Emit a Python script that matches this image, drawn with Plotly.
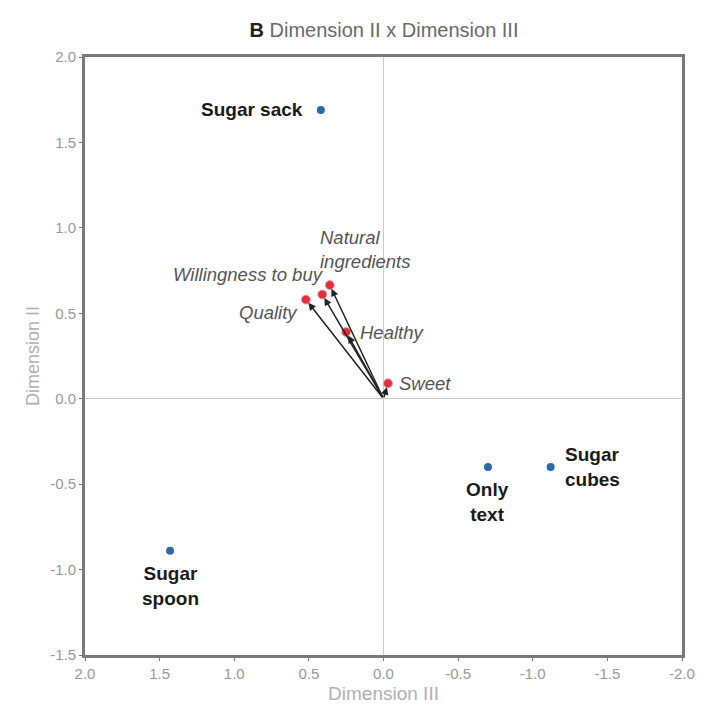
import plotly.graph_objects as go

# Product concepts (blue) and attribute vectors (red) on Dimension III (x) vs Dimension II (y)
product_names = ["Sugar sack", "Only text", "Sugar cubes", "Sugar spoon"]
product_labels = ["Sugar sack", "Only<br>text", "Sugar<br>cubes", "Sugar<br>spoon"]
product_dim3 = [0.42, -0.70, -1.12, 1.43]
product_dim2 = [1.69, -0.40, -0.40, -0.89]

attr_names = ["Sweet", "Healthy", "Quality", "Willingness to buy", "Natural ingredients"]
attr_labels = ["Sweet", "Healthy", "Quality", "Willingness to buy", "Natural<br>ingredients"]
attr_dim3 = [-0.03, 0.25, 0.52, 0.41, 0.36]
attr_dim2 = [0.09, 0.39, 0.58, 0.61, 0.665]

x_ticks = [2.0, 1.5, 1.0, 0.5, 0.0, -0.5, -1.0, -1.5, -2.0]
y_ticks = [2.0, 1.5, 1.0, 0.5, 0.0, -0.5, -1.0, -1.5]

FONT = "Liberation Sans, Arial, sans-serif"

fig = go.Figure()

# Arrows from the origin to each attribute point
for x, y in zip(attr_dim3, attr_dim2):
    fig.add_annotation(
        x=x, y=y, ax=0, ay=0, xref="x", yref="y", axref="x", ayref="y",
        showarrow=True, arrowhead=2, arrowsize=1.0, arrowwidth=1.5,
        arrowcolor="#222222", standoff=4, text="",
    )

fig.add_trace(go.Scatter(
    x=attr_dim3, y=attr_dim2, mode="markers",
    marker=dict(size=9, color="#e0303c", line=dict(color="#f5a0a8", width=1)),
    hoverinfo="text", text=attr_names, showlegend=False,
))

fig.add_trace(go.Scatter(
    x=product_dim3, y=product_dim2, mode="markers",
    marker=dict(size=8, color="#2a6aaa"),
    hoverinfo="text", text=product_names, showlegend=False,
))

# Product labels
prod_pos = [
    dict(xanchor="right", yanchor="middle", xshift=-16, yshift=0, align="right"),
    dict(xanchor="center", yanchor="top", xshift=0, yshift=-10, align="center"),
    dict(xanchor="left", yanchor="middle", xshift=12, yshift=0, align="left"),
    dict(xanchor="center", yanchor="top", xshift=0, yshift=-10, align="center"),
]
for x, y, lab, p in zip(product_dim3, product_dim2, product_labels, prod_pos):
    fig.add_annotation(
        x=x, y=y, text=f"<b>{lab}</b>", showarrow=False,
        font=dict(family=FONT, size=19, color="#1a1a1a"), **p,
    )

# Attribute labels
attr_pos = [
    dict(xanchor="left", yanchor="middle", xshift=9, yshift=0, align="left"),
    dict(xanchor="left", yanchor="middle", xshift=12, yshift=0, align="left"),
    dict(xanchor="right", yanchor="middle", xshift=-6, yshift=-13, align="right"),
    dict(xanchor="right", yanchor="middle", xshift=4, yshift=20, align="right"),
    dict(xanchor="left", yanchor="bottom", xshift=-12, yshift=11, align="left"),
]
for x, y, lab, p in zip(attr_dim3, attr_dim2, attr_labels, attr_pos):
    fig.add_annotation(
        x=x, y=y, text=f"<i>{lab}</i>", showarrow=False,
        font=dict(family=FONT, size=18.5, color="#555555"), **p,
    )

fig.update_layout(
    width=702, height=713,
    margin=dict(l=85, r=20, t=57, b=58),
    paper_bgcolor="white", plot_bgcolor="white",
    title=dict(
        text="<b><span style='color:#222'>B</span></b> Dimension II x Dimension III",
        x=384 / 702, xanchor="center",
        y=1 - 30 / 713, yanchor="middle",
        font=dict(family=FONT, size=20, color="#6a6a6a"),
    ),
    xaxis=dict(
        range=[2.0, -2.0], tickvals=x_ticks, automargin=False,
        ticktext=[f"{v:.1f}" for v in x_ticks],
        showgrid=False, zeroline=True, zerolinecolor="#cccccc", zerolinewidth=1,
        showline=True, linecolor="#7a7a7a", linewidth=3, mirror=True,
        ticks="outside", ticklen=3, tickcolor="#7a7a7a",
        tickfont=dict(family=FONT, size=15, color="#999999"),
        title=dict(text="Dimension III", standoff=6,
                   font=dict(family=FONT, size=19, color="#b0b0b0")),
    ),
    yaxis=dict(
        range=[-1.5, 2.0], tickvals=y_ticks, automargin=False,
        ticktext=[f"{v:.1f}" for v in y_ticks],
        showgrid=False, zeroline=True, zerolinecolor="#cccccc", zerolinewidth=1,
        showline=True, linecolor="#7a7a7a", linewidth=3, mirror=True,
        ticks="outside", ticklen=3, tickcolor="#7a7a7a",
        tickfont=dict(family=FONT, size=15, color="#999999"),
        title=dict(text="Dimension II", standoff=6,
                   font=dict(family=FONT, size=18, color="#b0b0b0")),
    ),
)

fig.write_html("out.html")
